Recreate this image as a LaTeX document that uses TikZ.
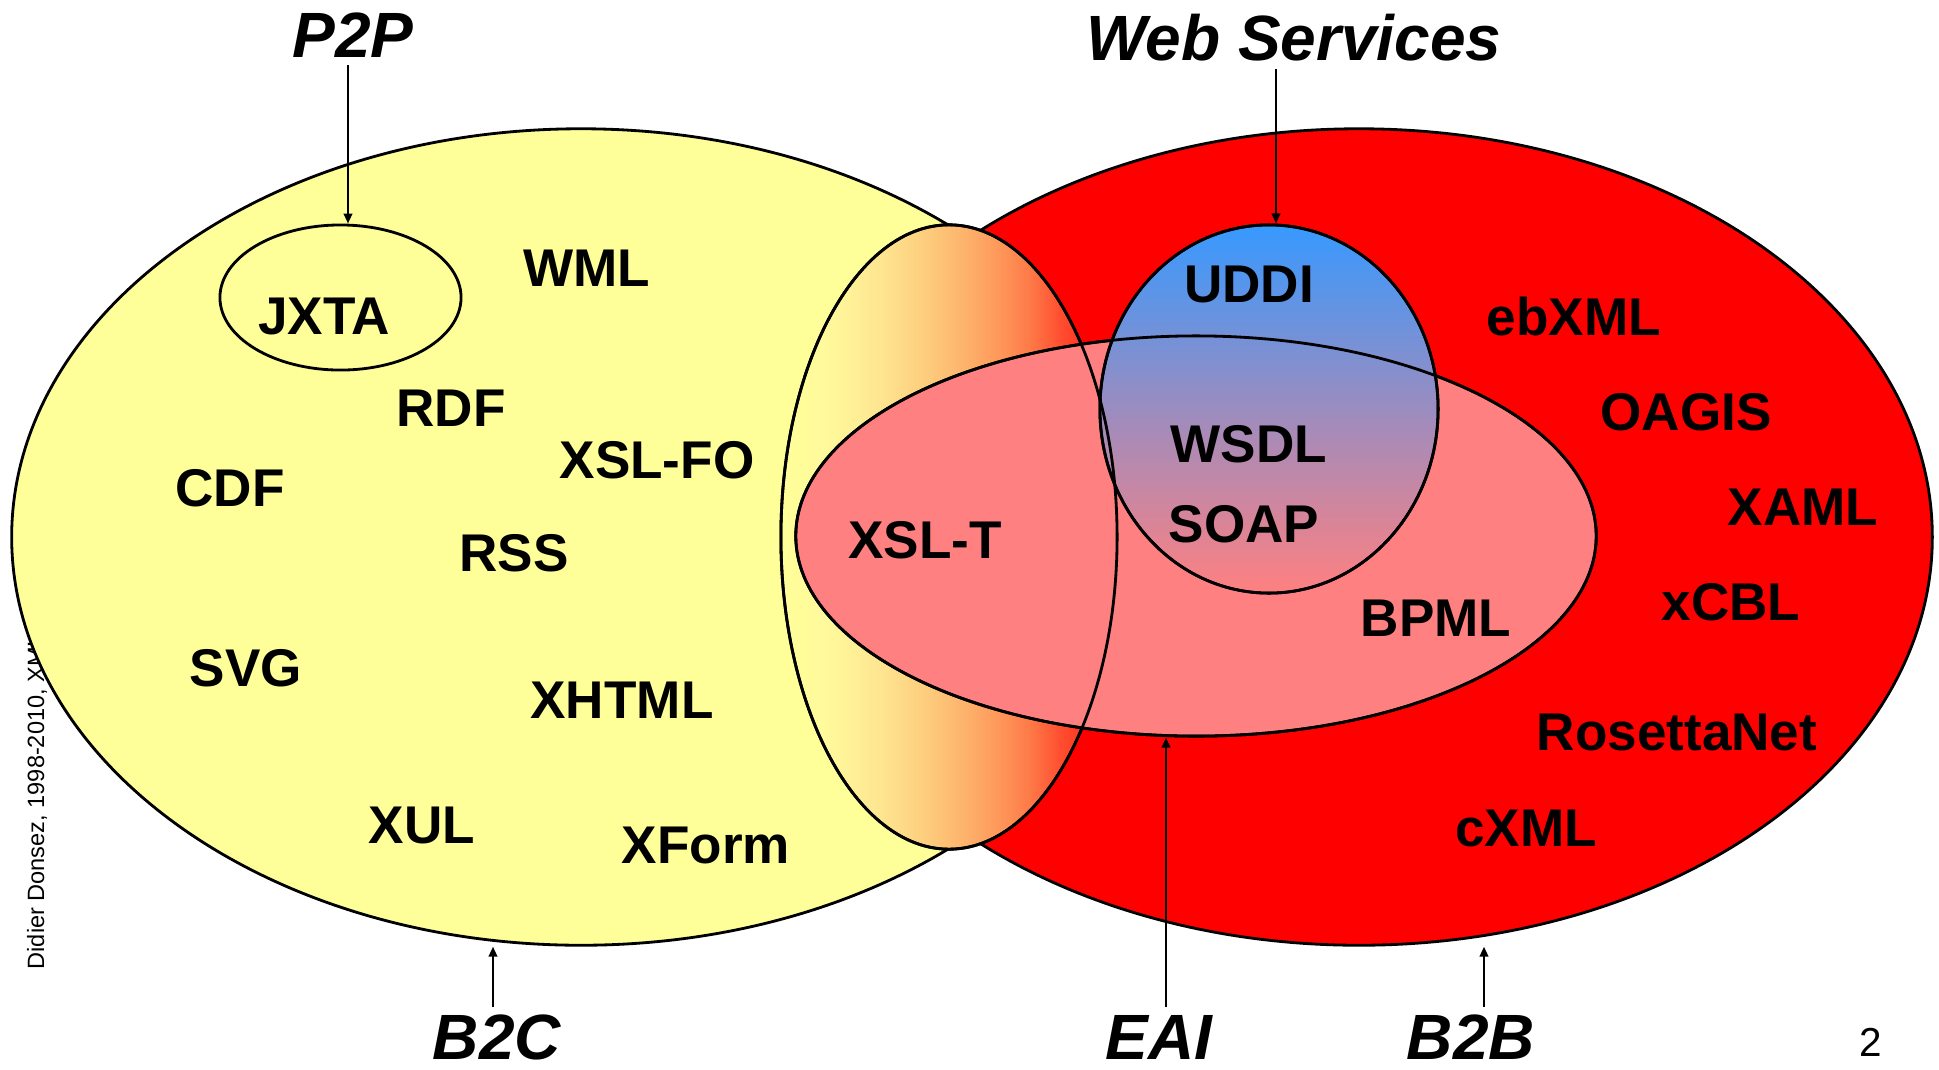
\documentclass[tikz,border=0pt]{standalone}
\usepackage{fontspec}
\setmainfont{Liberation Sans}
\usetikzlibrary{shapes.geometric,arrows.meta}

\definecolor{b2cyellow}{RGB}{255,255,153}
\definecolor{b2bred}{RGB}{255,0,0}
\definecolor{eaipink}{RGB}{255,128,128}
\definecolor{wsblue}{RGB}{55,153,255}

% yellow -> orange -> red blend for the B2C/B2B overlap
\pgfdeclarehorizontalshading{xsltgrad}{100bp}{%
  rgb(0bp)=(1,1,0.6);
  rgb(25bp)=(1,1,0.6);
  rgb(32bp)=(1,0.976,0.61);
  rgb(40bp)=(0.996,0.898,0.565);
  rgb(47bp)=(0.992,0.796,0.486);
  rgb(52bp)=(0.992,0.706,0.424);
  rgb(57bp)=(0.996,0.604,0.36);
  rgb(62bp)=(0.996,0.478,0.282);
  rgb(67bp)=(1,0.29,0.18);
  rgb(75bp)=(1,0.1,0.05);
  rgb(100bp)=(1,0.1,0.05)}

\begin{document}
\begin{tikzpicture}[x=0.01cm, y=-0.01cm,
  setshape/.style={ellipse, draw=black, line width=0.8pt, inner sep=0pt},
  rim/.style={line width=0.8pt},
  lbl/.style={font=\fontsize{15.1}{18}\selectfont\bfseries, inner sep=0pt},
  ttl/.style={font=\fontsize{18.2}{22}\selectfont\bfseries\itshape, inner sep=0pt},
  pointer/.style={line width=0.65pt, -{Triangle[length=0.1cm,width=0.085cm]}, shorten <=0.07cm}]

\path[use as bounding box, fill=white] (0,0) rectangle (1939,1069);

% author line, partly hidden by the B2C set
\node[rotate=90, anchor=west, inner sep=0pt, font=\fontsize{6.7}{8}\selectfont] (credit) at (37,970) {Didier Donsez, 1998-2010, XML};

% the sets
\node[setshape, fill=b2cyellow, minimum width=11.38cm, minimum height=8.16cm] (b2cset) at (581,537) {};
\node[setshape, fill=b2bred, minimum width=11.46cm, minimum height=8.16cm] (b2bset) at (1359,537) {};
\node[setshape, shade, shading=xsltgrad, minimum width=3.36cm, minimum height=6.24cm] (xsltset) at (949,537) {};
\node[setshape, fill=eaipink, minimum width=8.0cm, minimum height=4.0cm] (eaiset) at (1196,536) {};
\node[setshape, top color=wsblue, bottom color=eaipink, minimum width=3.38cm, minimum height=3.68cm] (wsset) at (1269,409) {};
\node[setshape, minimum width=2.41cm, minimum height=1.45cm] (jxtaset) at (340.5,297.5) {};

% outlines that stay visible over the fills
\draw[rim] (xsltset.center) ellipse [x radius=1.68cm, y radius=3.12cm];
\draw[rim] (eaiset.center) ellipse [x radius=4.0cm, y radius=2.0cm];
\draw[rim] (wsset.center) ellipse [x radius=1.69cm, y radius=1.84cm];

% technologies
\node[lbl] (jxta) at (324,316) {JXTA};
\node[lbl] (wml) at (587,268) {WML};
\node[lbl] (rdf) at (451,408) {RDF};
\node[lbl] (xslfo) at (657,460) {XSL-FO};
\node[lbl] (cdf) at (230,488) {CDF};
\node[lbl] (rss) at (514,553) {RSS};
\node[lbl] (svg) at (246,668) {SVG};
\node[lbl] (xhtml) at (622,700) {XHTML};
\node[lbl] (xul) at (422,825) {XUL};
\node[lbl] (xform) at (706,845) {XForm};
\node[lbl] (xslt) at (925,540) {XSL-T};
\node[lbl] (uddi) at (1249,284) {UDDI};
\node[lbl] (wsdl) at (1249,444) {WSDL};
\node[lbl] (soap) at (1244,524) {SOAP};
\node[lbl] (bpml) at (1436,618) {BPML};
\node[lbl] (ebxml) at (1574,317) {ebXML};
\node[lbl] (oagis) at (1686,412) {OAGIS};
\node[lbl] (xaml) at (1803,507) {XAML};
\node[lbl] (xcbl) at (1731,602) {xCBL};
\node[lbl] (rosetta) at (1677,732) {RosettaNet};
\node[lbl] (cxml) at (1526,828) {cXML};

% domain titles
\node[ttl] (p2p) at (353,35) {P2P};
\node[ttl] (ws) at (1294,38) {Web Services};
\node[ttl] (b2c) at (497,1037) {B2C};
\node[ttl] (eai) at (1159,1037) {EAI};
\node[ttl] (b2b) at (1471,1037) {B2B};

\node[font=\fontsize{11.5}{13}\selectfont, inner sep=0pt] (pageno) at (1871,1042) {2};

% pointers from titles to sets
\coordinate (p2ptail) at ([xshift=-0.05cm]p2p.south);
\coordinate (wstail) at ([xshift=0.07cm]wsset.north |- ws.south);
\coordinate (b2ctail) at ([xshift=-0.04cm]b2c.north);
\coordinate (eaitail) at ([xshift=0.07cm]eai.north);
\coordinate (b2btail) at ([xshift=0.13cm]b2b.north);

\draw[pointer] (p2ptail) -- (p2ptail |- jxtaset.north);
\draw[pointer] (wstail) -- (wstail |- wsset.north);
\draw[pointer] (b2ctail) -- (b2ctail |- b2cset.south);
\draw[pointer] (eaitail) -- (eaitail |- eaiset.south);
\draw[pointer] (b2btail) -- (b2btail |- b2bset.south);

\end{tikzpicture}
\end{document}
